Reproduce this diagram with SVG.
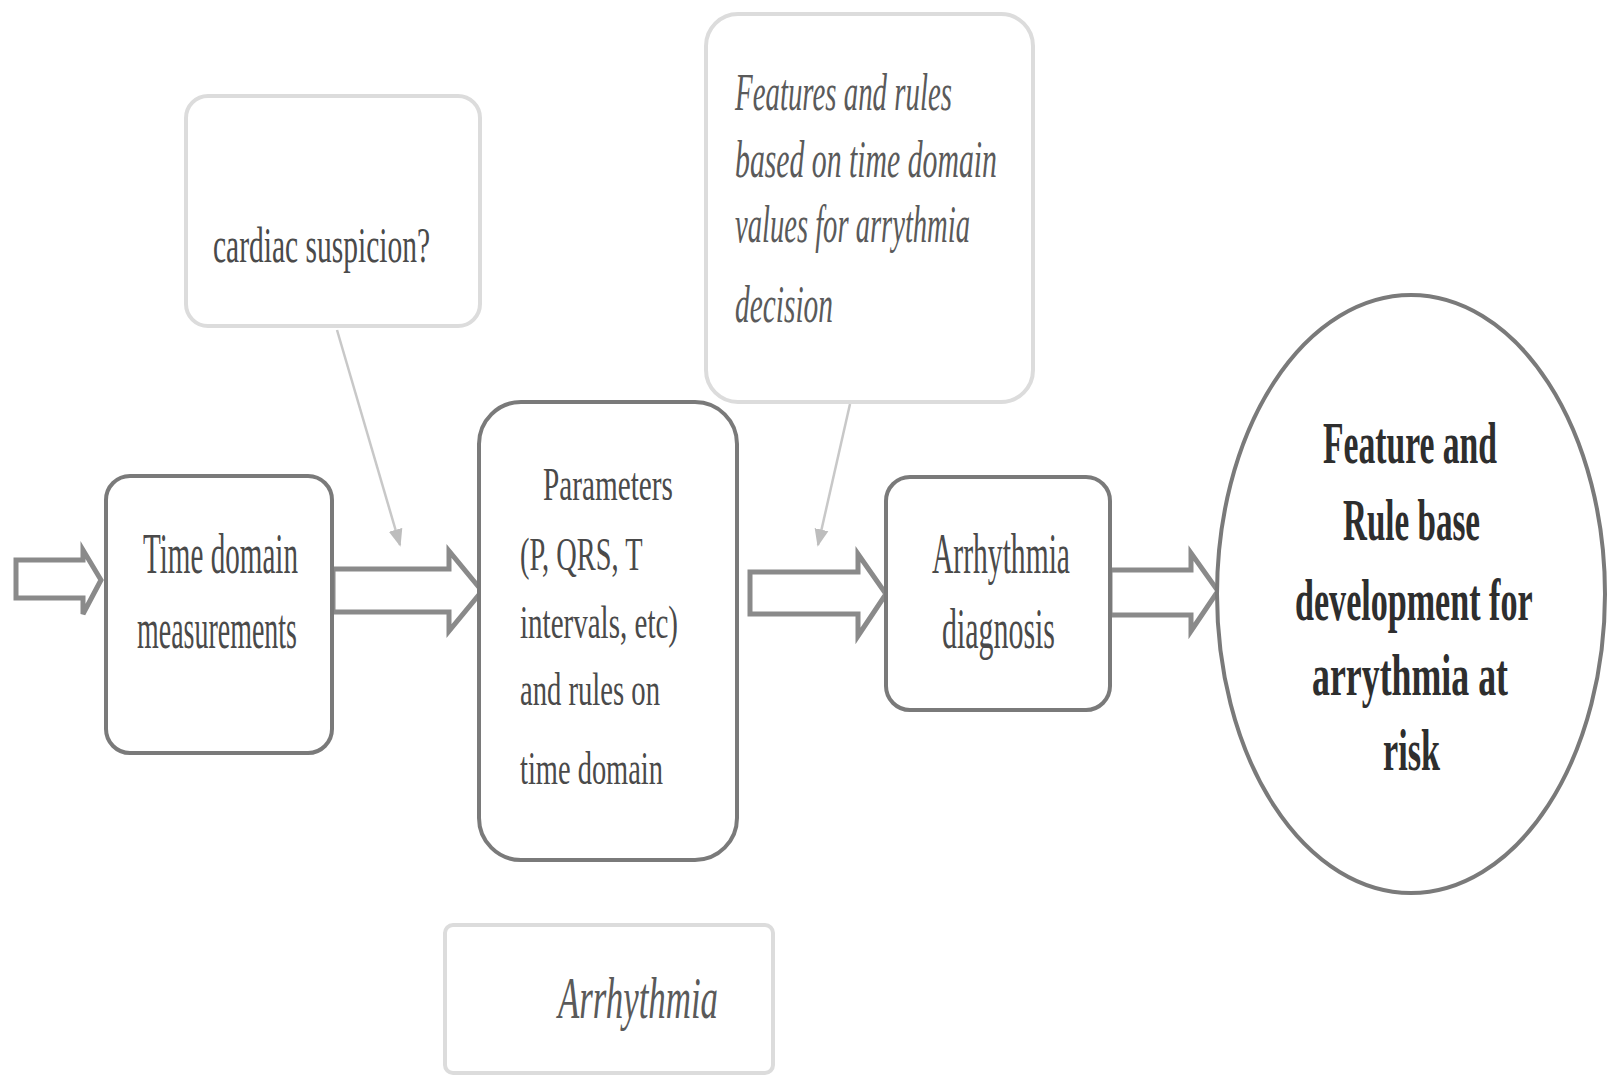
<svg xmlns="http://www.w3.org/2000/svg" width="1614" height="1081" viewBox="0 0 1614 1081">
<style>
.box{fill:#fff;stroke:#7a7a7a;stroke-width:4}
.call{fill:#fff;stroke:#dcdcdc;stroke-width:4}
.blk{fill:#fff;stroke:#8a8a8a;stroke-width:5;stroke-linejoin:miter}
.pt{stroke:#c8c8c8;stroke-width:2.5;fill:none}
.t{font-family:"Liberation Serif","Times New Roman",serif;fill:#4a4a4a}
.tb{font-family:"Liberation Serif","Times New Roman",serif;font-weight:bold;fill:#2e2e2e}
.ti{font-family:"Liberation Serif","Times New Roman",serif;font-style:italic;fill:#5a5a5a}
</style>
<defs>
<marker id="ah" viewBox="0 0 10 10" refX="9" refY="5" markerWidth="7" markerHeight="7" orient="auto" markerUnits="strokeWidth">
<path d="M0,1 L10,5 L0,9 Z" fill="#bdbdbd"/>
</marker>
</defs>
<rect width="1614" height="1081" fill="#fff"/>

<g id="connectors">
<polygon class="blk" points="16,560 83,560 83,550 101,580 83,614 83,598 16,598"/>
<polygon class="blk" points="333,569 449,569 449,551 482,591 449,631 449,612 333,612"/>
<polygon class="blk" points="750,572 858,572 858,554 886,594 858,636 858,614 750,614"/>
<polygon class="blk" points="1110,570 1191,570 1191,553 1218,591 1191,631 1191,615 1110,615"/>
<line class="pt" x1="337" y1="330" x2="400" y2="545" marker-end="url(#ah)"/>
<line class="pt" x1="850" y1="404" x2="818" y2="545" marker-end="url(#ah)"/>
</g>

<g id="callout-cardiac">
<rect class="call" x="186" y="96" width="294" height="230" rx="22"/>
<text class="t" x="213" y="262" font-size="50" textLength="217" lengthAdjust="spacingAndGlyphs" fill="#555">cardiac suspicion?</text>
</g>

<g id="callout-features">
<rect class="call" x="706" y="14" width="327" height="388" rx="32"/>
<text class="ti" font-size="52">
<tspan x="735" y="110" textLength="217" lengthAdjust="spacingAndGlyphs">Features and rules</tspan>
<tspan x="735" y="177" textLength="262" lengthAdjust="spacingAndGlyphs">based on time domain</tspan>
<tspan x="735" y="242" textLength="235" lengthAdjust="spacingAndGlyphs">values for arrythmia</tspan>
<tspan x="735" y="322" textLength="98" lengthAdjust="spacingAndGlyphs">decision</tspan>
</text>
</g>

<g id="node-time">
<rect class="box" x="106" y="476" width="226" height="277" rx="24"/>
<text class="t" font-size="56">
<tspan x="143" y="573" textLength="155" lengthAdjust="spacingAndGlyphs">Time domain</tspan>
<tspan x="137" y="648" textLength="160" lengthAdjust="spacingAndGlyphs">measurements</tspan>
</text>
</g>

<g id="node-params">
<rect class="box" x="479" y="402" width="258" height="458" rx="42"/>
<text class="t" font-size="46">
<tspan x="543" y="500" textLength="130" lengthAdjust="spacingAndGlyphs">Parameters</tspan>
<tspan x="520" y="570" textLength="122" lengthAdjust="spacingAndGlyphs">(P, QRS, T</tspan>
<tspan x="520" y="638" textLength="158" lengthAdjust="spacingAndGlyphs">intervals, etc)</tspan>
<tspan x="520" y="705" textLength="140" lengthAdjust="spacingAndGlyphs">and rules on</tspan>
<tspan x="520" y="784" textLength="143" lengthAdjust="spacingAndGlyphs">time domain</tspan>
</text>
</g>

<g id="node-diagnosis">
<rect class="box" x="886" y="477" width="224" height="233" rx="24"/>
<text class="t" font-size="56">
<tspan x="932" y="573" textLength="138" lengthAdjust="spacingAndGlyphs">Arrhythmia</tspan>
<tspan x="942" y="648" textLength="113" lengthAdjust="spacingAndGlyphs">diagnosis</tspan>
</text>
</g>

<g id="node-rulebase">
<ellipse cx="1411" cy="594" rx="194" ry="299" fill="#fff" stroke="#7a7a7a" stroke-width="4"/>
<text class="tb" font-size="60">
<tspan x="1323" y="463" textLength="174" lengthAdjust="spacingAndGlyphs">Feature and</tspan>
<tspan x="1343" y="540" textLength="137" lengthAdjust="spacingAndGlyphs">Rule base</tspan>
<tspan x="1295" y="620" textLength="237" lengthAdjust="spacingAndGlyphs">development for</tspan>
<tspan x="1312" y="695" textLength="196" lengthAdjust="spacingAndGlyphs">arrythmia  at</tspan>
<tspan x="1383" y="770" textLength="57" lengthAdjust="spacingAndGlyphs">risk</tspan>
</text>
</g>

<g id="label-arrhythmia">
<rect class="call" x="445" y="925" width="328" height="148" rx="8"/>
<text class="ti" x="558" y="1018" font-size="60" textLength="160" lengthAdjust="spacingAndGlyphs" fill="#333">Arrhythmia</text>
</g>
</svg>
